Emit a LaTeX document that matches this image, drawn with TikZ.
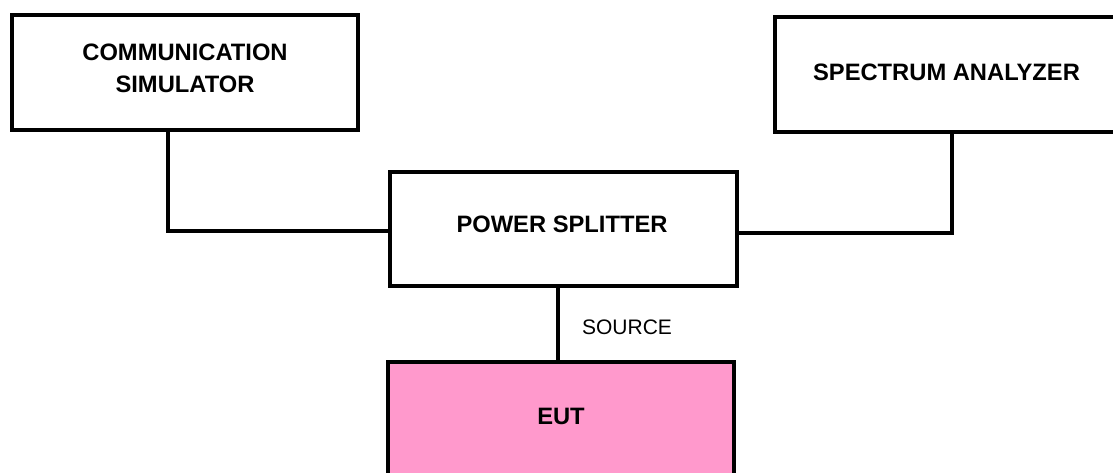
\documentclass[tikz,border=0pt]{standalone}
\usepackage{fontspec}
\setmainfont{Liberation Sans}
\definecolor{eutpink}{HTML}{FF99CC}
\tikzset{
  box/.style={draw=black, line width=2.6pt, rectangle, inner sep=0pt, outer sep=0pt, anchor=north west},
  lbl/.style={font=\fontsize{17.8pt}{24pt}\selectfont\bfseries, inner sep=0pt, align=center},
  wire/.style={draw=black, line width=2.6pt},
}
\begin{document}
\begin{tikzpicture}[x=0.75pt,y=-0.75pt]
\useasboundingbox (0,0) rectangle (1113,473);
\clip (0,0) rectangle (1113,473);
\node[box, minimum width=259.5pt, minimum height=86.25pt] (cs) at (12,15) {};
\node[box, minimum width=255.75pt, minimum height=86.25pt] (sa) at (775,17) {};
\node[box, minimum width=260.25pt, minimum height=85.5pt] (ps) at (390,172) {};
\node[box, fill=eutpink, minimum width=259.5pt, minimum height=88.5pt] (eut) at (388,362) {};
\node[lbl] (cst) at (185,68.5) {COMMUNICATION\\SIMULATOR};
\node[lbl] (sat) at (946.5,72.5) {SPECTRUM ANALYZER};
\node[lbl] (pst) at (562,224) {POWER SPLITTER};
\node[lbl] (eutt) at (561,416) {EUT};
\draw[wire] ([xshift=-12.75pt]cs.south) |- ([yshift=-1.5pt]ps.west);
\draw[wire] ([xshift=4.875pt]sa.south) |- ([yshift=-3pt]ps.east);
\draw[wire] ([xshift=-4.125pt]ps.south) coordinate (s1) -- (s1 |- eut.north);
\node[font=\fontsize{15.75pt}{19pt}\selectfont, inner sep=0pt] (src) at (627,327) {SOURCE};
\end{tikzpicture}
\end{document}
